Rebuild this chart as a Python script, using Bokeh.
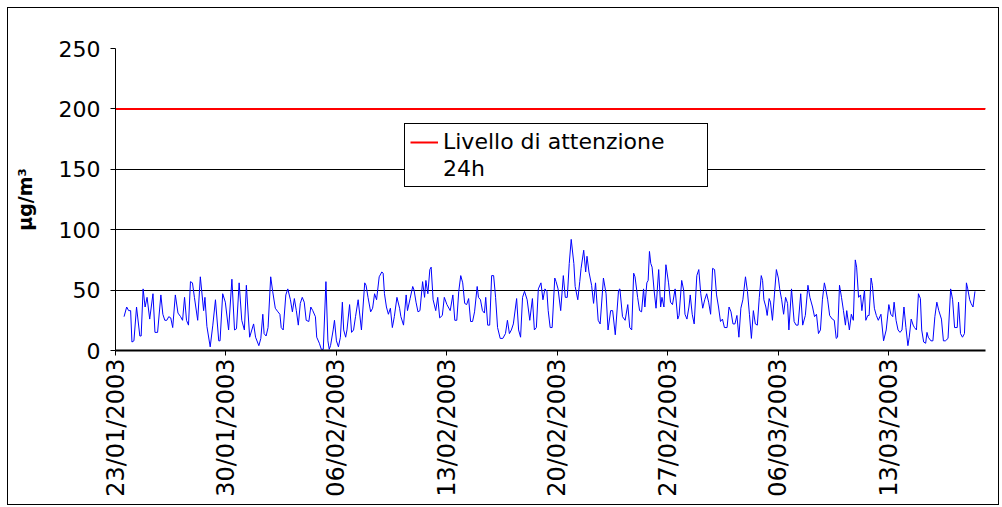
from datetime import datetime, timedelta
import calendar
from bokeh.plotting import figure
from bokeh.models import (Range1d, FixedTicker, DatetimeTickFormatter,
                          Legend, LegendItem)
from bokeh.embed import file_html
from bokeh.resources import INLINE

# ---------------- data ----------------
START = datetime(2003, 1, 23)
AXIS_END_HOURS = 1323
TICK_LABELS = ["23/01/2003", "30/01/2003", "06/02/2003", "13/02/2003",
               "20/02/2003", "27/02/2003", "06/03/2003", "13/03/2003"]
Y_TICKS = [0, 50, 100, 150, 200, 250]
LIMIT_24H = 200
LIMIT_LABEL = "Livello di attenzione"
LIMIT_LABEL2 = "24h"
Y_LABEL = "µg/m³"

# hours since 23/01/2003 00:00 and concentration (µg/m³)
hours = [13, 17, 20, 23, 25, 28, 32, 37, 39, 42, 45, 48, 52, 57, 60, 64, 69, 72, 75, 78, 81, 84, 87, 91, 95, 99, 102, 105, 108,
         111, 114, 117, 120, 125, 129, 134, 136, 139, 144, 148, 152, 157, 159, 163, 167, 172, 177, 181, 184, 188, 192, 196, 199, 204, 210, 213,
         218, 221, 224, 226, 229, 232, 236, 239, 243, 247, 250, 252, 255, 259, 262, 266, 269, 272, 275, 278, 281, 284, 287, 290, 294, 297, 300, 304, 306, 310, 313, 316, 320, 323, 325,
         327, 331, 333, 336, 339, 342, 345, 347, 350, 352, 356, 359, 362, 365, 369, 374, 379, 381, 384, 388, 391, 394, 397, 401, 405, 407, 409, 412, 415, 418, 421, 424, 428, 432,
         434, 438, 442, 444, 448, 452, 454, 457, 460, 463, 467, 470, 472, 475, 478, 480, 483, 487, 490, 493, 497, 500, 504, 509, 513, 516, 519, 522, 525, 528, 531, 534, 537, 540, 543,
         546, 550, 552, 555, 558, 561, 563, 566, 569, 572, 575, 578, 581, 585, 589, 593, 596, 599, 602, 605, 610, 613, 616, 619, 622, 626, 630, 634, 637, 640, 643, 647, 650, 653,
         656, 658, 661, 664, 668, 670, 673, 677, 681, 684, 687, 690, 693, 697, 699, 703, 706, 708, 712, 715, 717, 720, 724, 727, 730, 734, 737, 742, 746, 749, 753, 756, 760,
         765, 767, 771, 775, 779, 782, 785, 788, 790, 794, 797, 800, 803, 805, 808, 810, 812, 814, 816, 819, 822, 826, 829, 831, 834, 837, 841, 844, 847, 851, 855, 857, 861, 864, 866, 869, 872,
         874, 877, 880, 884, 887, 890, 893, 896, 899, 902, 905, 908, 911, 914, 917, 920, 923, 926, 930, 933, 936, 939, 942, 945, 948, 951, 954, 958, 961, 964, 967, 970, 973, 976, 979, 982,
         984, 986, 989, 991, 994, 996, 999, 1002, 1005, 1008, 1010, 1013, 1016, 1019, 1022, 1024, 1028, 1032, 1035, 1038, 1042, 1045, 1049, 1053, 1056, 1060, 1063, 1066, 1069, 1072, 1075, 1078, 1080, 1083, 1086, 1090,
         1093, 1096, 1098, 1101, 1104, 1107, 1110, 1112, 1116, 1119, 1122, 1125, 1127, 1130, 1133, 1135, 1139, 1141, 1144, 1146, 1149, 1151, 1154, 1157, 1160, 1164, 1168, 1172, 1176, 1179, 1182, 1184, 1187, 1190, 1193, 1196, 1199,
         1202, 1205, 1207, 1210, 1213, 1215, 1218, 1221, 1224, 1226, 1229, 1232, 1234, 1236, 1240, 1243, 1246, 1249, 1252, 1256, 1259, 1262, 1266, 1270, 1273, 1276, 1280, 1282, 1285, 1288, 1291, 1294, 1296, 1299, 1301, 1304, 1307]

pm10 = [28, 36, 33, 33, 7, 8, 36, 12, 12, 51, 36, 44, 26, 47, 15, 15, 46, 30, 25, 25, 28, 27, 19, 46, 31, 28, 25, 44, 25,
        21, 57, 56, 44, 25, 61, 33, 44, 20, 3, 21, 42, 8, 8, 47, 40, 17, 59, 17, 18, 56, 25, 17, 54, 11, 22, 11,
        4, 10, 30, 14, 12, 19, 61, 49, 35, 32, 30, 19, 17, 46, 51, 42, 32, 43, 33, 21, 39, 44, 40, 25, 24, 36, 33, 28, 11, 6, 1, 1, 57, 8, 1,
        4, 17, 25, 8, 3, 11, 40, 17, 11, 17, 38, 15, 17, 28, 42, 17, 56, 54, 44, 32, 35, 47, 42, 61, 65, 64, 47, 36, 30, 35, 19, 28, 44, 35,
        28, 21, 46, 33, 43, 53, 50, 40, 32, 33, 57, 44, 58, 47, 67, 69, 42, 33, 44, 27, 29, 44, 38, 33, 46, 25, 25, 49, 62, 56, 39, 38, 43, 24, 24,
        32, 53, 44, 42, 33, 31, 44, 21, 21, 62, 62, 44, 19, 10, 10, 14, 25, 14, 17, 22, 43, 17, 11, 44, 49, 42, 25, 43, 17, 19, 51, 56, 42, 51,
        49, 33, 19, 19, 60, 57, 51, 33, 62, 44, 44, 72, 92, 72, 53, 42, 57, 68, 83, 65, 78, 65, 54, 39, 56, 25, 22, 60, 47, 17, 33, 33, 13,
        50, 51, 28, 25, 38, 19, 17, 64, 61, 44, 33, 32, 51, 36, 56, 58, 82, 72, 69, 50, 35, 67, 36, 44, 36, 71, 56, 40, 38, 51, 26, 29, 58, 50, 30, 26, 36,
        46, 30, 22, 62, 67, 47, 35, 42, 47, 40, 30, 68, 67, 46, 36, 24, 26, 19, 19, 36, 32, 22, 22, 29, 11, 35, 42, 61, 49, 30, 10, 33, 22, 21, 44, 62,
        58, 42, 36, 29, 43, 40, 25, 46, 67, 60, 51, 42, 30, 44, 39, 17, 51, 24, 21, 21, 47, 21, 29, 54, 44, 36, 28, 30, 14, 17, 42, 56, 51, 42, 29, 26,
        25, 10, 11, 54, 44, 33, 21, 33, 17, 30, 25, 75, 69, 44, 46, 33, 50, 25, 29, 29, 60, 54, 35, 29, 25, 30, 8, 17, 38, 30, 28, 40, 25, 17, 15, 17, 36,
        19, 4, 11, 26, 21, 19, 17, 47, 43, 17, 7, 6, 15, 11, 8, 8, 28, 40, 33, 26, 8, 8, 10, 51, 42, 19, 19, 40, 14, 11, 14, 56, 51, 42, 39, 36, 49]

# ---------------- chart ----------------
times = [START + timedelta(hours=h) for h in hours]
x_start = START
x_end = START + timedelta(hours=AXIS_END_HOURS)


def to_ms(d):
    return calendar.timegm(d.timetuple()) * 1000.0


tick_ms = [to_ms(datetime.strptime(t, "%d/%m/%Y")) for t in TICK_LABELS]

p = figure(width=992, height=498, x_axis_type="datetime",
           output_backend="svg", toolbar_location=None,
           x_range=Range1d(x_start, x_end),
           y_range=Range1d(0, 250),
           min_border_left=107, min_border_right=15,
           min_border_top=40, min_border_bottom=156)
p.styles = {"border": "1px solid black", "margin-left": "7px", "margin-top": "7px"}
p.outline_line_color = None
p.background_fill_color = "white"
p.border_fill_color = "white"

FONT = "DejaVu Sans"

p.xgrid.grid_line_color = None
p.ygrid.grid_line_color = "black"
p.ygrid.grid_line_width = 1
p.yaxis.ticker = FixedTicker(ticks=Y_TICKS)
p.xaxis.ticker = FixedTicker(ticks=tick_ms)
fmt = "%d/%m/%Y"
p.xaxis.formatter = DatetimeTickFormatter(
    microseconds=fmt, milliseconds=fmt, seconds=fmt, minsec=fmt, minutes=fmt,
    hourmin=fmt, hours=fmt, days=fmt, months=fmt, years=fmt)
p.xaxis.major_label_orientation = 3.14159265 / 2

for ax in (p.xaxis, p.yaxis):
    ax.axis_line_color = "black"
    ax.axis_line_width = 1
    ax.major_tick_line_color = "black"
    ax.major_tick_in = 0
    ax.major_tick_out = 5
    ax.minor_tick_line_color = None
    ax.major_label_text_font = FONT
    ax.major_label_text_color = "black"

p.xaxis.axis_line_width = 2
p.xaxis.major_label_text_font_size = "24px"
p.xaxis.major_label_standoff = 3
p.yaxis.major_label_text_font_size = "22px"
p.yaxis.major_label_standoff = 10
p.yaxis.axis_label = Y_LABEL
p.yaxis.axis_label_text_font = FONT
p.yaxis.axis_label_text_font_style = "bold"
p.yaxis.axis_label_text_font_size = "19px"
p.yaxis.axis_label_text_color = "black"
p.yaxis.axis_label_standoff = 20

# threshold line across the whole time axis
thr = p.line(x=[x_start, x_end], y=[LIMIT_24H, LIMIT_24H],
             line_color="#FF0000", line_width=2)

# data line
p.line(times, pm10, line_color="#0000FF", line_width=1)

# legend (second entry is only the continuation of the label)
blank = p.line(x=[x_start], y=[LIMIT_24H], line_alpha=0)
legend = Legend(items=[LegendItem(label=LIMIT_LABEL, renderers=[thr]),
                       LegendItem(label=LIMIT_LABEL2, renderers=[blank])],
                location=(289, 163))
legend.border_line_color = "black"
legend.border_line_width = 1
legend.border_line_alpha = 1
legend.background_fill_color = "white"
legend.background_fill_alpha = 1
legend.label_text_font = FONT
legend.label_text_font_size = "22px"
legend.label_text_color = "black"
legend.label_height = 22
legend.label_width = 259
legend.glyph_width = 28
legend.glyph_height = 22
legend.label_standoff = 5
legend.padding = 5
legend.spacing = 2
legend.margin = 0
p.add_layout(legend)

open("out.html", "w").write(file_html(p, INLINE))
